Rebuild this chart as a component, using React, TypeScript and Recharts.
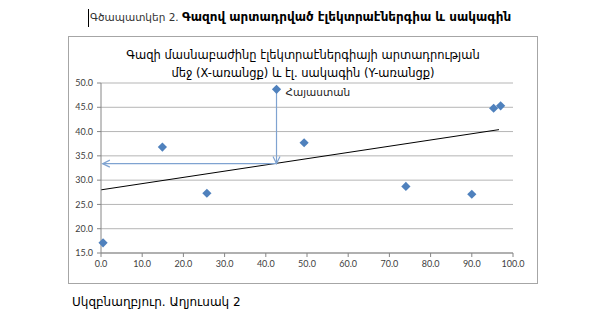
import { ScatterChart, Scatter, XAxis, YAxis, CartesianGrid, ReferenceLine } from "recharts";

// share of gas in electricity generation (X) and tariff (Y)
const shareX = [0.5, 14.9, 25.7, 42.6, 49.3, 74.0, 90.0, 95.3, 97.0];
const tariffY = [17.1, 36.8, 27.3, 48.7, 37.7, 28.7, 27.1, 44.8, 45.3];
const pointNames = ["", "", "", "Հայաստան", "", "", "", "", ""];

const xTicks = [0, 10, 20, 30, 40, 50, 60, 70, 80, 90, 100];
const yTicks = [15, 20, 25, 30, 35, 40, 45, 50];

// linear trend end points, and the fitted value for Armenia
const trendX = [0, 96.6];
const trendY = [28.0, 40.4];
const armeniaX = 42.6;
const armeniaFit = 33.4;
const arrowEndX = 0.4;

const points = shareX.map((x, i) => ({ x, y: tariffY[i], name: pointNames[i] }));

const BLUE = "#4F81BD";
const ARROW = "#7FA3D1";
const ARM = '"DejaVu Sans", sans-serif';
const TICK = 'Lato, "Liberation Sans", sans-serif';

const Diamond = (props: any) => {
  const { cx, cy, payload } = props;
  const r = 4.6;
  return (
    <g>
      <polygon
        points={`${cx},${cy - r} ${cx + r},${cy} ${cx},${cy + r} ${cx - r},${cy}`}
        fill={BLUE}
      />
      {payload && payload.name ? (
        <text x={cx + 9} y={cy + 7} fontSize={10.5} fontFamily={ARM} fill="#222">
          {payload.name}
        </text>
      ) : null}
    </g>
  );
};

const Arrow = (props: any) => {
  const { x1, y1, x2, y2 } = props;
  const ang = Math.atan2(y2 - y1, x2 - x1);
  const len = 8;
  const spread = 0.45;
  const ax = x2 - len * Math.cos(ang - spread);
  const ay = y2 - len * Math.sin(ang - spread);
  const bx = x2 - len * Math.cos(ang + spread);
  const by = y2 - len * Math.sin(ang + spread);
  return (
    <g stroke={ARROW} strokeWidth={1.2} fill="none">
      <line x1={x1} y1={y1} x2={x2} y2={y2} />
      <polyline points={`${ax},${ay} ${x2},${y2} ${bx},${by}`} />
    </g>
  );
};

const App = () => {
  return (
    <div
      style={{
        position: "absolute",
        left: 0,
        top: 0,
        width: 600,
        height: 314,
        background: "#fff",
        overflow: "hidden",
      }}
    >
      <div style={{ position: "absolute", left: 88, top: 9, width: 1, height: 18, background: "#000" }} />
      <div
        style={{
          position: "absolute",
          left: 90,
          top: 10,
          fontFamily: ARM,
          fontSize: 12,
          whiteSpace: "nowrap",
          color: "#000",
        }}
      >
        <span style={{ fontSize: 10.5, color: "#333" }}>Գծապատկեր 2. </span>
        <span style={{ fontWeight: "bold" }}>Գազով արտադրված էլեկտրաէներգիա և սակագին</span>
      </div>

      <div
        style={{
          position: "absolute",
          left: 68,
          top: 36,
          width: 470,
          height: 248,
          boxSizing: "border-box",
          border: "1px solid #a6a6a6",
        }}
      >
        <div
          style={{
            position: "absolute",
            left: 0,
            top: 9,
            width: 468,
            textAlign: "center",
            fontFamily: ARM,
            fontSize: 11.5,
            lineHeight: "18px",
            color: "#000",
          }}
        >
          Գազի մասնաբաժինը էլեկտրաէներգիայի արտադրության
          <br />
          մեջ (X-առանցք) և էլ. սակագին (Y-առանցք)
        </div>
        <ScatterChart width={468} height={246} margin={{ top: 46, right: 24, bottom: 10, left: 0 }}>
          <CartesianGrid vertical={false} stroke="#b5b5b5" />
          <XAxis
            type="number"
            dataKey="x"
            domain={[0, 100]}
            ticks={xTicks}
            interval={0}
            tickFormatter={(v: number) => v.toFixed(1)}
            stroke="#868686"
            tickSize={4}
            tickMargin={4}
            height={20}
            tick={{ fontSize: 9, fontFamily: TICK, fill: "#404040" }}
          />
          <YAxis
            type="number"
            dataKey="y"
            domain={[15, 50]}
            ticks={yTicks}
            interval={0}
            tickFormatter={(v: number) => v.toFixed(1)}
            stroke="#868686"
            tickSize={4}
            tickMargin={4}
            width={32}
            tick={{ fontSize: 9, fontFamily: TICK, fill: "#404040" }}
          />
          <ReferenceLine
            segment={[
              { x: trendX[0], y: trendY[0] },
              { x: trendX[1], y: trendY[1] },
            ]}
            stroke="#000"
            strokeWidth={1}
          />
          <ReferenceLine
            segment={[
              { x: armeniaX, y: tariffY[3] },
              { x: armeniaX, y: armeniaFit },
            ]}
            shape={Arrow}
          />
          <ReferenceLine
            segment={[
              { x: armeniaX, y: armeniaFit },
              { x: arrowEndX, y: armeniaFit },
            ]}
            shape={Arrow}
          />
          <Scatter data={points} fill={BLUE} shape={Diamond} isAnimationActive={false} />
        </ScatterChart>
      </div>

      <div
        style={{
          position: "absolute",
          left: 72,
          top: 295,
          fontFamily: ARM,
          fontSize: 12,
          whiteSpace: "nowrap",
          color: "#000",
        }}
      >
        Սկզբնաղբյուր. Աղյուսակ 2
      </div>
    </div>
  );
};

export default App;
